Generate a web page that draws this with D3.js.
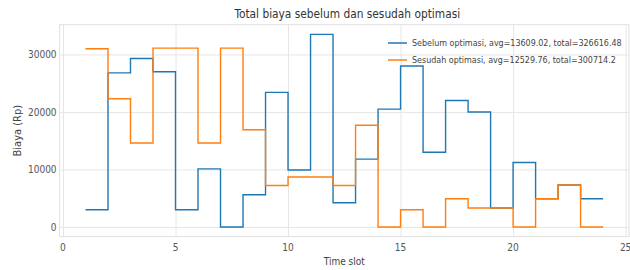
<!DOCTYPE html>
<html>
<head>
<meta charset="utf-8">
<script src="https://cdn.jsdelivr.net/npm/d3@7"></script>
<style>
  body { margin: 0; background: #fff; }
  svg text { font-family: "Liberation Sans Narrow", "DejaVu Sans Condensed", "Liberation Sans", sans-serif; }
</style>
</head>
<body>
<svg id="chart" width="630" height="270"></svg>
<script>
// visible step levels for time slots 1..23 (segment i -> i+1)
var slots = d3.range(1, 24);
var sebelum = [3000, 26800, 29300, 27000, 3000, 10100, 0, 5600, 23400, 9900, 33500, 4200,
               11800, 20500, 28000, 13000, 22000, 20000, 3300, 11200, 4900, 7300, 4900];
var sesudah = [31000, 22300, 14600, 31100, 31100, 14600, 31100, 16900, 7200, 8700, 8700, 7200,
               17700, 0, 3000, 0, 4900, 3300, 3300, 0, 4900, 7300, 0];

var seriesNames = ["Sebelum optimasi, avg=13609.02, total=326616.48",
                   "Sesudah optimasi, avg=12529.76, total=300714.2"];
var colors = ["#1f77b4", "#ff7f0e"];
var xTicks = [0, 5, 10, 15, 20, 25];
var yTicks = [0, 10000, 20000, 30000];

var plotLeft = 59.6, plotRight = 629, plotTop = 24.7, plotBottom = 236.6;

var x = d3.scaleLinear().domain([-0.15, 25.15]).range([plotLeft, plotRight]);
var y = d3.scaleLinear().domain([-1675, 35175]).range([plotBottom, plotTop]);

var svg = d3.select("#chart");

// grid
svg.append("g")
    .attr("transform", "translate(0," + plotBottom + ")")
    .call(d3.axisBottom(x).tickValues(xTicks).tickSize(-(plotBottom - plotTop)).tickFormat(""))
    .call(g => g.select(".domain").remove())
    .selectAll("line").attr("stroke", "#e6e6e6");

svg.append("g")
    .attr("transform", "translate(" + plotLeft + ",0)")
    .call(d3.axisLeft(y).tickValues(yTicks).tickSize(-(plotRight - plotLeft)).tickFormat(""))
    .call(g => g.select(".domain").remove())
    .selectAll("line").attr("stroke", "#e6e6e6");

// frame
svg.append("rect")
    .attr("x", plotLeft).attr("y", plotTop)
    .attr("width", plotRight - plotLeft).attr("height", plotBottom - plotTop)
    .attr("fill", "none").attr("stroke", "#e0e0e0");

// tick labels
svg.append("g").selectAll("text")
    .data(xTicks).enter().append("text")
    .attr("x", d => x(d)).attr("y", plotBottom + 14)
    .attr("text-anchor", "middle")
    .attr("fill", "#555").style("font-size", "10px")
    .text(d => d);

svg.append("g").selectAll("text")
    .data(yTicks).enter().append("text")
    .attr("x", plotLeft - 3).attr("y", d => y(d) + 4)
    .attr("text-anchor", "end")
    .attr("fill", "#555").style("font-size", "10px")
    .text(d => d);

// lines
var line = d3.line()
    .x(d => x(d[0]))
    .y(d => y(d[1]))
    .curve(d3.curveStepAfter);

[sebelum, sesudah].forEach((vals, i) => {
    var pts = slots.map((s, j) => [s, vals[j]]);
    pts.push([slots[slots.length - 1] + 1, vals[vals.length - 1]]);
    svg.append("path")
        .datum(pts)
        .attr("d", line)
        .attr("fill", "none")
        .attr("stroke", colors[i])
        .attr("stroke-width", 1.4);
});

// title and axis labels
svg.append("text")
    .attr("x", (plotLeft + plotRight) / 2 + 3).attr("y", 18)
    .attr("text-anchor", "middle")
    .attr("fill", "#333").style("font-size", "11.8px")
    .text("Total biaya sebelum dan sesudah optimasi");

svg.append("text")
    .attr("x", (plotLeft + plotRight) / 2).attr("y", 265)
    .attr("text-anchor", "middle")
    .attr("fill", "#444").style("font-size", "10px")
    .text("Time slot");

svg.append("text")
    .attr("transform", "translate(21," + (plotTop + plotBottom) / 2 + ") rotate(-90)")
    .attr("text-anchor", "middle")
    .attr("fill", "#444").style("font-size", "11px")
    .text("Biaya (Rp)");

// legend
seriesNames.forEach((name, i) => {
    var ly = 43 + i * 17;
    svg.append("line")
        .attr("x1", 388).attr("x2", 407)
        .attr("y1", ly).attr("y2", ly)
        .attr("stroke", colors[i]).attr("stroke-width", 1.5);
    svg.append("text")
        .attr("x", 412).attr("y", ly + 3)
        .attr("fill", "#444").style("font-size", "8.9px")
        .text(name);
});
</script>
</body>
</html>
